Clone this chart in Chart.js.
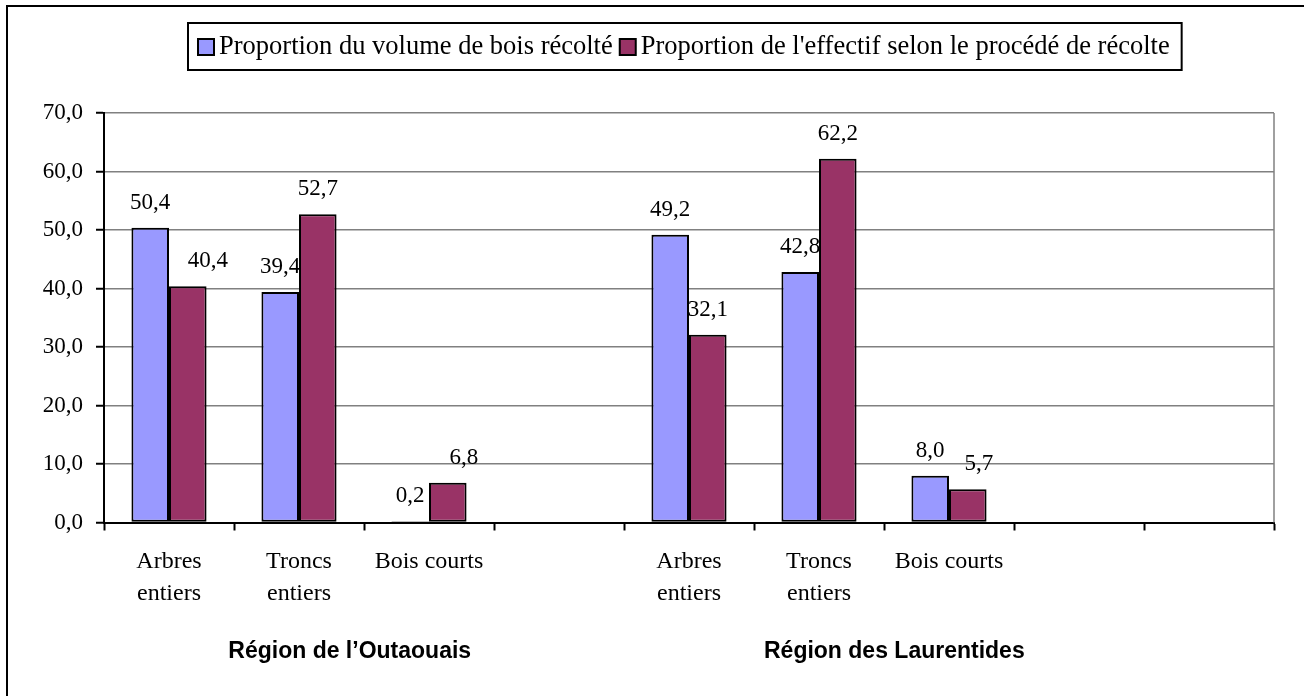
<!DOCTYPE html>
<html>
<head>
<meta charset="utf-8">
<script src="https://cdn.jsdelivr.net/npm/chart.js@4/dist/chart.umd.min.js"></script>
<style>
  html, body { margin: 0; padding: 0; background: #ffffff; }
  #wrap { width: 1304px; height: 696px; position: relative; }
  canvas { display: block; }
</style>
</head>
<body>
<div id="wrap"><canvas id="c" width="1304" height="696"></canvas></div>
<script>
const categories = [['Arbres', 'entiers'], ['Troncs', 'entiers'], 'Bois courts', '', ['Arbres', 'entiers'], ['Troncs', 'entiers'], 'Bois courts', '', ''];
const volumeValues = [50.4, 39.4, 0.2, null, 49.2, 42.8, 8.0, null, null];
const effectifValues = [40.4, 52.7, 6.8, null, 32.1, 62.2, 5.7, null, null];
const seriesLabels = ['Proportion du volume de bois récolté', "Proportion de l'effectif selon le procédé de récolte"];
const seriesColors = ['#9999FF', '#993366'];
const regionLabels = ['Région de l’Outaouais', 'Région des Laurentides'];
const yMin = 0, yMax = 70, yStep = 10;

// horizontal nudges of individual value labels (style, as placed in the original)
const labelNudge = { '1-0': 20, '1-2': 16, '1-6': 11 };

const fmt = v => v.toFixed(1).replace('.', ',');

const decorPlugin = {
  id: 'decor',
  beforeDraw(chart) {
    const ctx = chart.ctx;
    ctx.save();
    ctx.fillStyle = '#ffffff';
    ctx.fillRect(0, 0, chart.width, chart.height);
    ctx.restore();
  },
  beforeDatasetsDraw(chart) {
    // value labels (drawn under the bars, as in the original)
    const ctx = chart.ctx;
    ctx.save();
    ctx.font = '23px "Liberation Serif"';
    ctx.fillStyle = '#000000';
    ctx.textAlign = 'center';
    ctx.textBaseline = 'alphabetic';
    chart.data.datasets.forEach((ds, di) => {
      const meta = chart.getDatasetMeta(di);
      meta.data.forEach((el, i) => {
        const v = ds.data[i];
        if (v === null || v === undefined) return;
        const dx = labelNudge[di + '-' + i] || 0;
        ctx.fillText(fmt(v), el.x + dx, el.y - 19);
      });
    });
    ctx.restore();
  },
  afterDraw(chart) {
    const ctx = chart.ctx;
    const ca = chart.chartArea;
    ctx.save();
    // right border of plot area
    ctx.strokeStyle = '#808080';
    ctx.lineWidth = 1.5;
    ctx.beginPath();
    ctx.moveTo(ca.right, ca.top);
    ctx.lineTo(ca.right, ca.bottom);
    ctx.stroke();

    // outer frame (left and top edges)
    ctx.strokeStyle = '#000000';
    ctx.lineWidth = 2;
    ctx.beginPath();
    ctx.moveTo(7, chart.height);
    ctx.lineTo(7, 6);
    ctx.lineTo(chart.width, 6);
    ctx.stroke();

    // legend
    ctx.font = '26.5px "Liberation Serif"';
    ctx.textBaseline = 'middle';
    ctx.textAlign = 'left';
    const boxLeft = 188, boxTop = 23, boxBottom = 70;
    let x = 198;
    const swY = 39, swS = 16, textY = 47;
    let lastEnd = x;
    chart.data.datasets.forEach((ds, di) => {
      ctx.fillStyle = ds.backgroundColor;
      ctx.fillRect(x, swY, swS, swS);
      ctx.strokeStyle = '#000000';
      ctx.lineWidth = 2;
      ctx.strokeRect(x, swY, swS, swS);
      const tx = x + 21;
      ctx.fillStyle = '#000000';
      ctx.fillText(ds.label, tx, textY);
      const w = ctx.measureText(ds.label).width;
      lastEnd = tx + w;
      x = lastEnd + 7;
    });
    ctx.strokeStyle = '#000000';
    ctx.lineWidth = 2;
    ctx.strokeRect(boxLeft, boxTop, (lastEnd + 12) - boxLeft, boxBottom - boxTop);

    // region titles
    ctx.font = 'bold 23px "Liberation Sans"';
    ctx.textAlign = 'center';
    ctx.fillStyle = '#000000';
    const xs = chart.scales.x;
    ctx.fillText(regionLabels[0], xs.getPixelForDecimal(0.210), 652);
    ctx.fillText(regionLabels[1], xs.getPixelForDecimal(0.6755), 652);
    ctx.restore();
  }
};

new Chart(document.getElementById('c'), {
  type: 'bar',
  data: {
    labels: categories,
    datasets: [
      { label: seriesLabels[0], data: volumeValues, backgroundColor: seriesColors[0], borderColor: '#000000', borderWidth: 2, borderSkipped: false },
      { label: seriesLabels[1], data: effectifValues, backgroundColor: seriesColors[1], borderColor: '#000000', borderWidth: 2, borderSkipped: false }
    ]
  },
  options: {
    responsive: false,
    animation: false,
    events: [],
    layout: { padding: { top: 113, right: 30, bottom: 0, left: 0 } },
    datasets: { bar: { categoryPercentage: 0.578, barPercentage: 1.0 } },
    plugins: { legend: { display: false }, tooltip: { enabled: false }, title: { display: false } },
    scales: {
      x: {
        offset: true,
        grid: { display: true, drawOnChartArea: false, drawTicks: true, tickLength: 8, tickColor: '#000000', tickWidth: 2, offset: true },
        border: { display: true, color: '#000000', width: 2 },
        ticks: { color: '#000000', font: { family: 'Liberation Serif', size: 24, lineHeight: 1.333 }, padding: 15, maxRotation: 0, autoSkip: false },
        afterFit(scale) { scale.height = 173.5; }
      },
      y: {
        min: yMin, max: yMax,
        ticks: { stepSize: yStep, color: '#000000', font: { family: 'Liberation Serif', size: 23 }, padding: 13, callback: v => fmt(v) },
        grid: { color: '#808080', lineWidth: 1.5, tickLength: 8, tickColor: '#000000', tickWidth: 2 },
        border: { display: true, color: '#000000', width: 2 },
        afterFit(scale) { scale.width = 104; }
      }
    }
  },
  plugins: [decorPlugin]
});
</script>
</body>
</html>
